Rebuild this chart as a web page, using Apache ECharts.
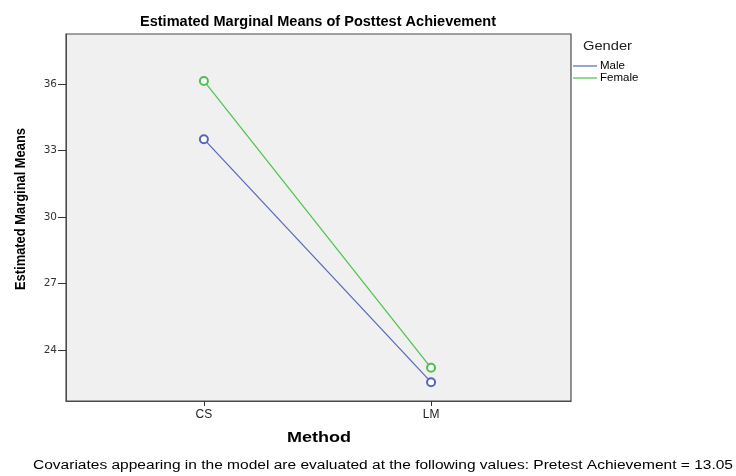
<!DOCTYPE html>
<html><head><meta charset="utf-8">
<script src="https://cdn.jsdelivr.net/npm/echarts@6/dist/echarts.min.js"></script>
<style>html,body{margin:0;padding:0;background:#fff}#c{width:736px;height:476px}</style>
</head><body><div id="c"></div>
<script>
const categories = ['CS', 'LM'];
const maleValues = [33.52, 22.55];
const femaleValues = [36.15, 23.2];
const yTicks = [24, 27, 30, 33, 36];
const seriesNames = ['Male', 'Female'];
const titleText = 'Estimated Marginal Means of Posttest Achievement';
const yName = 'Estimated Marginal Means';
const xName = 'Method';
const legendTitle = 'Gender';
const footnote = 'Covariates appearing in the model are evaluated at the following values: Pretest Achievement = 13.05';

const chart = echarts.init(document.getElementById('c'));
const toPoints = vals => vals.map((v, i) => [i, v]);
const catIdx = categories.map((c, i) => i);
const font = 'Liberation Sans, Arial, sans-serif';
const ctx = document.createElement('canvas').getContext('2d');
function fitScale(text, fnt, width) { ctx.font = fnt; return width / ctx.measureText(text).width; }

const fTitle = 'bold 14.5px Liberation Sans';
const fFoot = '12px Liberation Sans';
const fX = 'bold 15px Liberation Sans';
const fY = 'bold 14px Liberation Sans';
const fG = '12px Liberation Sans';

chart.setOption({
  animation: false,
  backgroundColor: '#fff',
  graphic: [
    {type: 'text', x: 318, y: 22, scaleX: fitScale(titleText, fTitle, 356),
      style: {text: titleText, font: fTitle, fill: '#000', align: 'center', verticalAlign: 'middle'}},
    {type: 'text', x: 583, y: 47, scaleX: fitScale(legendTitle, fG, 49),
      style: {text: legendTitle, font: fG, fill: '#222', align: 'left', verticalAlign: 'middle'}},
    {type: 'text', x: 319, y: 438, scaleX: fitScale(xName, fX, 64),
      style: {text: xName, font: fX, fill: '#000', align: 'center', verticalAlign: 'middle'}},
    {type: 'text', x: 21, y: 209, rotation: Math.PI / 2, scaleX: fitScale(yName, fY, 162),
      style: {text: yName, font: fY, fill: '#000', align: 'center', verticalAlign: 'middle'}},
    {type: 'text', x: 33, y: 466, scaleX: fitScale(footnote, fFoot, 700),
      style: {text: footnote, font: fFoot, fill: '#000', align: 'left', verticalAlign: 'middle'}}
  ],
  legend: {
    data: seriesNames, orient: 'vertical', left: 573, top: 60, padding: 0,
    icon: 'rect', itemWidth: 24, itemHeight: 1.2, itemGap: 0,
    textStyle: {fontFamily: font, fontSize: 11.5, color: '#000', lineHeight: 12, padding: [0,0,0,-2]}
  },
  grid: {
    left: 66, top: 34, right: 165, bottom: 75,
    show: true, backgroundColor: '#f0f0f0', borderColor: '#4a4a4a', borderWidth: 1.2
  },
  xAxis: {
    type: 'value', min: -0.607, max: 1.616,
    axisLine: {show: true, onZero: false, lineStyle: {color: '#4a4a4a'}},
    axisTick: {show: true, length: 5, lineStyle: {color: '#333'}, customValues: catIdx},
    axisLabel: {fontFamily: font, fontSize: 12, color: '#222', margin: 8,
      customValues: catIdx, formatter: v => categories[Math.round(v)]},
    splitLine: {show: false}
  },
  yAxis: {
    type: 'value', min: 21.7, max: 38.27,
    axisLine: {show: true, onZero: false, lineStyle: {color: '#4a4a4a'}},
    axisTick: {show: true, length: 8, lineStyle: {color: '#333'}, customValues: yTicks},
    axisLabel: {fontFamily: 'DejaVu Sans, sans-serif', fontSize: 10.5, color: '#333', margin: 9, customValues: yTicks},
    splitLine: {show: false}
  },
  series: [{
    name: 'Male', type: 'line', data: toPoints(maleValues),
    symbol: 'emptyCircle', symbolSize: 8,
    lineStyle: {color: '#5566bb', width: 1.2},
    itemStyle: {color: '#5566bb', borderWidth: 1}
  }, {
    name: 'Female', type: 'line', data: toPoints(femaleValues),
    symbol: 'emptyCircle', symbolSize: 8,
    lineStyle: {color: '#4cc24c', width: 1.2},
    itemStyle: {color: '#4cc24c', borderWidth: 1}
  }]
});
</script></body></html>
